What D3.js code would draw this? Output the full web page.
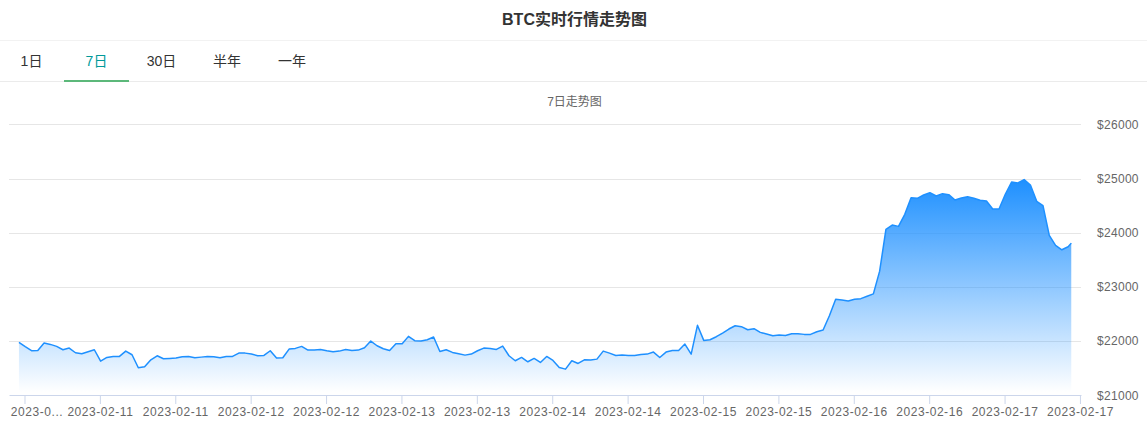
<!DOCTYPE html>
<html>
<head>
<meta charset="utf-8">
<title>BTC实时行情走势图</title>
<script src="https://cdn.jsdelivr.net/npm/d3@7"></script>
<style>
    html, body { margin: 0; padding: 0; background: #fff; overflow: hidden; }
    svg { display: block; }
    text { font-family: "Liberation Sans", "Noto Sans CJK SC", sans-serif; }
</style>
</head>
<body>
<div id="canvas"></div>
<script>
// data (one price per hour)
var prices = [21975, 21895, 21821, 21827, 21963, 21938, 21901, 21839, 21870, 21784,
    21765, 21802, 21839, 21629, 21697, 21716, 21716, 21814, 21747, 21506,
    21524, 21654, 21728, 21673, 21679, 21685, 21710, 21716, 21691, 21703,
    21716, 21710, 21691, 21716, 21716, 21777, 21777, 21759, 21728, 21734,
    21821, 21685, 21691, 21851, 21864, 21901, 21833, 21833, 21845, 21821,
    21802, 21814, 21845, 21827, 21833, 21876, 22000, 21913, 21858, 21827,
    21950, 21950, 22086, 22006, 22000, 22024, 22074, 21808, 21839, 21790,
    21765, 21740, 21759, 21821, 21870, 21864, 21845, 21907, 21728, 21636,
    21697, 21617, 21679, 21605, 21716, 21642, 21512, 21481, 21636, 21586,
    21654, 21648, 21666, 21814, 21777, 21734, 21740, 21734, 21734, 21753,
    21759, 21796, 21697, 21796, 21827, 21827, 21944, 21759, 22290, 22012,
    22024, 22080, 22148, 22222, 22283, 22265, 22209, 22228, 22160, 22129,
    22098, 22111, 22104, 22135, 22135, 22123, 22123, 22172, 22203, 22468,
    22771, 22758, 22740, 22771, 22783, 22826, 22870, 23290, 24061, 24141,
    24117, 24339, 24647, 24635, 24697, 24740, 24678, 24721, 24703, 24604,
    24641, 24666, 24635, 24598, 24586, 24438, 24438, 24709, 24937, 24919,
    24981, 24882, 24580, 24499, 23950, 23765, 23685, 23740, 23808];
var yTicks = [21000, 22000, 23000, 24000, 25000, 26000];
var xTicks = ["2023-02-10 12:00", "2023-02-11 00:00", "2023-02-11 12:00", "2023-02-12 00:00",
    "2023-02-12 12:00", "2023-02-13 00:00", "2023-02-13 12:00", "2023-02-14 00:00",
    "2023-02-14 12:00", "2023-02-15 00:00", "2023-02-15 12:00", "2023-02-16 00:00",
    "2023-02-16 12:00", "2023-02-17 00:00", "2023-02-17 12:00"];
var tabs = ["1日", "7日", "30日", "半年", "一年"];

var parseTime = d3.timeParse("%Y-%m-%d %H:%M");
var formatDay = d3.timeFormat("%Y-%m-%d");
var firstTime = parseTime("2023-02-10 11:07");
var hour = 3600000;

// the last sample is a partial hour
var times = prices.map(function (d, i) {
    var h = i < prices.length - 1 ? i : i - 0.5;
    return new Date(firstTime.getTime() + h * hour);
});

var width = 1147, height = 429;
var left = 9, right = 1081, top_ = 124.4, bottom = 395.2;

var svg = d3.select('#canvas').append('svg')
    .attr('width', width)
    .attr('height', height);

var x = d3.scaleTime()
    .domain([parseTime("2023-02-10 09:32"), parseTime("2023-02-17 12:10")])
    .range([left, right]);
var y = d3.scaleLinear()
    .domain([21000, 26000])
    .range([bottom, top_]);

// header
svg.append('text')
    .attr('x', 574.5).attr('y', 24.5)
    .attr('text-anchor', 'middle')
    .attr('font-size', 16).attr('font-weight', 'bold')
    .attr('fill', '#333')
    .text('BTC实时行情走势图');
svg.append('line').attr('x1', 0).attr('x2', width).attr('y1', 40.5).attr('y2', 40.5).attr('stroke', '#f2f2f2');

// tabs
var tabX = d3.scaleLinear().domain([0, 4]).range([32, 292]);
svg.selectAll('.tab').data(tabs).enter().append('text')
    .attr('class', 'tab')
    .attr('x', function (d, i) { return tabX(i) - (i < 3 ? 0.5 : 0); })
    .attr('y', 66)
    .attr('text-anchor', 'middle')
    .attr('font-size', 14)
    .attr('fill', function (d, i) { return i == 1 ? '#009a9a' : '#333'; })
    .text(function (d) { return d; });
svg.append('line').attr('x1', 0).attr('x2', width).attr('y1', 81.5).attr('y2', 81.5).attr('stroke', '#ebebeb');
svg.append('rect').attr('x', 64).attr('y', 80).attr('width', 65).attr('height', 2).attr('fill', '#5cb87a');

svg.append('text')
    .attr('x', 574.5).attr('y', 106)
    .attr('text-anchor', 'middle')
    .attr('font-size', 12)
    .attr('fill', '#666')
    .text('7日走势图');

// grid
svg.append('g').selectAll('line').data(yTicks.slice(1)).enter().append('line')
    .attr('x1', left).attr('x2', right)
    .attr('y1', function (d) { return Math.round(y(d)) + 0.5; })
    .attr('y2', function (d) { return Math.round(y(d)) + 0.5; })
    .attr('stroke', '#e6e6e6');

// gradient for the area
var grad = svg.append('defs').append('linearGradient')
    .attr('id', 'areaFill')
    .attr('gradientUnits', 'userSpaceOnUse')
    .attr('x1', 0).attr('x2', 0)
    .attr('y1', y(d3.max(prices))).attr('y2', bottom - 3);
grad.append('stop').attr('offset', 0).attr('stop-color', '#1e90ff');
grad.append('stop').attr('offset', 1).attr('stop-color', '#1e90ff').attr('stop-opacity', 0);

var area = d3.area()
    .x(function (d, i) { return x(times[i]); })
    .y0(bottom)
    .y1(function (d) { return y(d); });
var line = d3.line()
    .x(function (d, i) { return x(times[i]); })
    .y(function (d) { return y(d); });

svg.append('path').datum(prices).attr('d', area).attr('fill', 'url(#areaFill)');
svg.append('path').datum(prices).attr('d', line)
    .attr('fill', 'none').attr('stroke', '#1e90ff').attr('stroke-width', 1.5)
    .attr('stroke-linejoin', 'round');

// x axis
var tickDates = xTicks.map(parseTime);
var xAxis = d3.axisBottom(x)
    .tickValues(tickDates)
    .tickSize(9)
    .tickSizeOuter(0)
    .tickPadding(3)
    .tickFormat(function (d, i) { return i == 0 ? "2023-0..." : formatDay(d); });
var gx = svg.append('g').attr('transform', 'translate(0,395)').call(xAxis);
gx.select('.domain').attr('stroke', '#ccd6eb');
gx.selectAll('line').attr('stroke', '#ccd6eb');
gx.selectAll('text')
    .attr('font-family', '"Liberation Sans", sans-serif')
    .attr('font-size', 12)
    .attr('fill', '#666')
    .style('letter-spacing', '0.55px')
    .attr('dx', function (d, i) { return i == 0 ? 12 : 0; });

// y axis
var yAxis = d3.axisRight(y)
    .tickValues(yTicks)
    .tickSize(0)
    .tickPadding(16)
    .tickFormat(function (d) { return '$' + d; });
var gy = svg.append('g').attr('transform', 'translate(' + right + ',0)').call(yAxis);
gy.select('.domain').remove();
gy.selectAll('text')
    .attr('font-family', '"Liberation Sans", sans-serif')
    .attr('font-size', 12)
    .attr('fill', '#666')
    .style('letter-spacing', '0.3px');
</script>
</body>
</html>
